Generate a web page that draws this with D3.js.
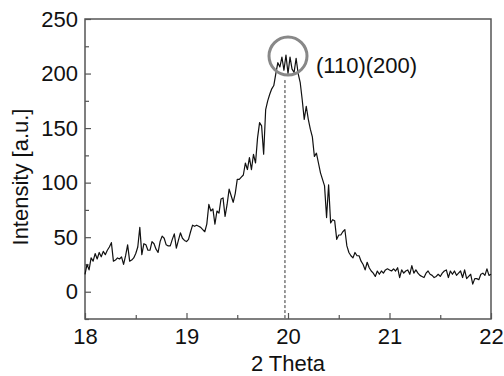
<!DOCTYPE html>
<html>
<head>
<meta charset="utf-8">
<script src="https://cdn.jsdelivr.net/npm/d3@7"></script>
<style>
  html, body { margin: 0; padding: 0; background: #fff; }
  svg { display: block; font-family: "Liberation Sans", Arial, sans-serif; }
</style>
</head>
<body>
<div id="chart"></div>
<script>
// XRD scan, 2 theta from 18 to 22 in 0.02 steps
const thetaStart = 18;
const thetaStep = 0.02;
const intensity = [
  16, 25, 20, 31, 28, 35, 30, 36, 32, 37,
  34, 38, 41, 45, 28, 29, 31, 30, 32, 25,
  33, 43, 28, 29, 31, 35, 41, 59, 34, 44,
  43, 38, 38, 46, 44, 39, 36, 46, 51, 49,
  43, 42, 42, 48, 53, 40, 47, 54, 49, 47,
  46, 48, 55, 61, 60, 61, 60, 59, 57, 55,
  62, 80, 74, 76, 62, 74, 72, 85, 86, 69,
  80, 94, 88, 82, 90, 103, 103, 105, 107, 118,
  112, 123, 112, 126, 118, 141, 155, 152, 126, 167,
  175, 181, 186, 189, 200, 210, 206, 215, 203, 217,
  200, 215, 204, 201, 214, 200, 192, 176, 158, 170,
  158, 149, 142, 124, 127, 118, 109, 103, 97, 68,
  98, 63, 66, 65, 48, 52, 52, 55, 57, 42,
  36, 33, 31, 36, 33, 33, 28, 25, 20, 27,
  22, 19, 17, 14, 19, 16, 19, 17, 20, 21,
  20, 19, 21, 19, 22, 13, 20, 17, 19, 20,
  16, 24, 17, 20, 17, 15, 14, 13, 17, 19,
  16, 15, 13, 14, 16, 14, 17, 19, 20, 13,
  19, 16, 19, 15, 17, 19, 13, 20, 12, 14,
  16, 7, 12, 12, 11, 16, 17, 15, 21, 15,
  16
];

const xTicks = [18, 19, 20, 21, 22];
const xMinorTicks = [18.5, 19.5, 20.5, 21.5];
const yTicks = [0, 50, 100, 150, 200, 250];
const yMinorTicks = [-25, 25, 75, 125, 175, 225];

// peak marker
const peakTheta = 19.97;
const peakLineTop = 194;
const circleCenter = [20.0, 216];
const peakLabel = "(110)(200)";

const width = 504, height = 376;
const margin = { top: 19, right: 13, bottom: 57, left: 85 };

const svg = d3.select("#chart").append("svg")
  .attr("width", width)
  .attr("height", height);

const x = d3.scaleLinear().domain([18, 22]).range([margin.left, width - margin.right]);
const y = d3.scaleLinear().domain([-25, 250]).range([height - margin.bottom, margin.top]);

const frameColor = "#555";

// frame
svg.append("rect")
  .attr("x", x(18))
  .attr("y", y(250))
  .attr("width", x(22) - x(18))
  .attr("height", y(-25) - y(250))
  .attr("fill", "none")
  .attr("stroke", frameColor)
  .attr("stroke-width", 1.5);

// bottom axis, ticks inward
svg.append("g")
  .attr("transform", `translate(0,${y(-25)})`)
  .call(d3.axisBottom(x).tickValues(xTicks).tickSize(-6).tickPadding(9).tickFormat(d3.format("d")));
svg.append("g")
  .attr("transform", `translate(0,${y(-25)})`)
  .call(d3.axisBottom(x).tickValues(xMinorTicks).tickSize(-4).tickFormat(""));

// left axis, ticks inward
svg.append("g")
  .attr("transform", `translate(${x(18)},0)`)
  .call(d3.axisLeft(y).tickValues(yTicks).tickSize(-6).tickPadding(7).tickFormat(d3.format("d")));
svg.append("g")
  .attr("transform", `translate(${x(18)},0)`)
  .call(d3.axisLeft(y).tickValues(yMinorTicks).tickSize(-4).tickFormat(""));

svg.selectAll(".domain").remove();
svg.selectAll(".tick line").attr("stroke", frameColor).attr("stroke-width", 1.2);
svg.selectAll(".tick text")
  .attr("fill", "#111")
  .style("font-size", "22px")
  .style("font-family", "Liberation Sans, Arial, sans-serif");

// axis titles
svg.append("text")
  .attr("x", x(20))
  .attr("y", 371)
  .attr("text-anchor", "middle")
  .attr("fill", "#111")
  .style("font-size", "22px")
  .text("2 Theta");

svg.append("text")
  .attr("transform", `translate(28,${(y(250) + y(-25)) / 2 + 8}) rotate(-90)`)
  .attr("text-anchor", "middle")
  .attr("fill", "#111")
  .style("font-size", "22px")
  .text("Intensity [a.u.]");

// dashed marker line
svg.append("line")
  .attr("x1", x(peakTheta))
  .attr("x2", x(peakTheta))
  .attr("y1", y(peakLineTop))
  .attr("y2", y(-25))
  .attr("stroke", "#333")
  .attr("stroke-width", 1)
  .attr("stroke-dasharray", "3,2");

// data line
const line = d3.line()
  .x((d, i) => x(thetaStart + i * thetaStep))
  .y(d => y(d));

svg.append("path")
  .datum(intensity)
  .attr("fill", "none")
  .attr("stroke", "#111")
  .attr("stroke-width", 1.2)
  .attr("stroke-linejoin", "round")
  .attr("d", line);

// circle around peak
svg.append("circle")
  .attr("cx", x(circleCenter[0]))
  .attr("cy", y(circleCenter[1]))
  .attr("r", 19)
  .attr("fill", "none")
  .attr("stroke", "#888")
  .attr("stroke-width", 3);

svg.append("text")
  .attr("x", 316)
  .attr("y", 73)
  .attr("fill", "#111")
  .style("font-size", "22px")
  .text(peakLabel);
</script>
</body>
</html>
